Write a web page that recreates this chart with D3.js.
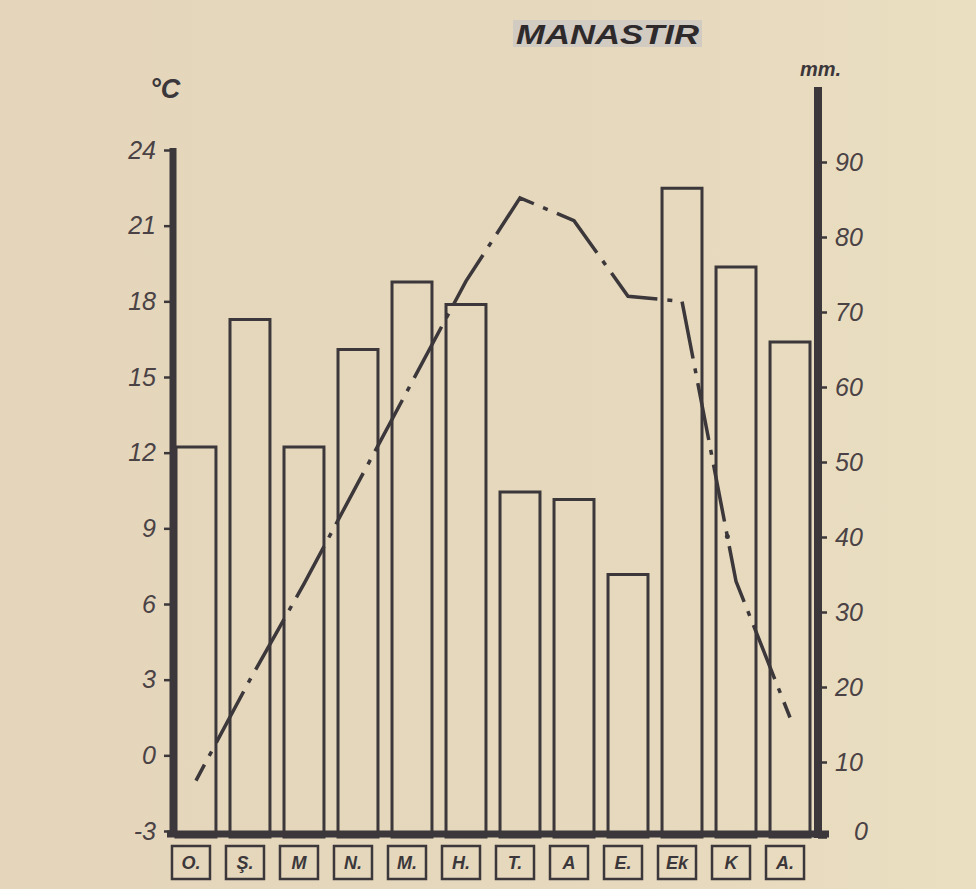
<!DOCTYPE html>
<html>
<head>
<meta charset="utf-8">
<script src="https://cdn.jsdelivr.net/npm/d3@7"></script>
<style>
	body { margin: 0; background: #e5d7bc; }
	svg { display: block; }
	.tick-label { font-family: 'Liberation Sans', Arial, sans-serif; font-style: italic; fill: #4a4245; }
</style>
</head>
<body>
<svg id="climate-plot" width="976" height="889" viewBox="0 0 976 889"></svg>
<script>

// months (Turkish initials), precipitation in mm, mean temperature in °C
const month_labels = ['O.', 'Ş.', 'M', 'N.', 'M.', 'H.', 'T.', 'A', 'E.', 'Ek', 'K', 'A.'];
const precipitation_mm = [52, 69, 52, 65, 74, 71, 46, 45, 35, 86.5, 76, 66];
const temperature_c = [-1, 3, 6.8, 10.8, 14.8, 18.8, 22.1, 21.2, 18.2, 18.0, 6.9, 1.5];
const temp_ticks = [-3, 0, 3, 6, 9, 12, 15, 18, 21, 24];
const mm_ticks = [0, 10, 20, 30, 40, 50, 60, 70, 80, 90];
const title_text = 'MANASTIR';

class ClimatePlot {

	constructor(svg_element_id) {
		this.svg = d3.select('#' + svg_element_id);
		const ink = '#3b373a';

		// background with a slightly lighter right side, like the paper
		const defs = this.svg.append('defs');
		const bg_grad = defs.append('linearGradient')
			.attr('id', 'paper')
			.attr('x1', '0%').attr('x2', '100%');
		bg_grad.append('stop').attr('offset', '0%').attr('stop-color', '#e4d5bb');
		bg_grad.append('stop').attr('offset', '70%').attr('stop-color', '#e6d9bd');
		bg_grad.append('stop').attr('offset', '100%').attr('stop-color', '#ebdfc2');
		this.svg.append('rect')
			.attr('width', 976).attr('height', 889)
			.style('fill', 'url(#paper)');

		// scales
		const x = d3.scaleBand()
			.domain(d3.range(month_labels.length))
			.range([172, 814])
			.paddingInner(0.26)
			.paddingOuter(0.074);
		const bw = x.bandwidth();

		const y_temp = d3.scaleLinear()
			.domain([-3, 24])
			.range([831, 150]);

		const y_mm = d3.scaleLinear()
			.domain([0, 100])
			.range([837, 87]);

		// precipitation bars (open rectangles)
		this.svg.append('g').selectAll('.bar')
			.data(precipitation_mm)
			.enter()
			.append('rect')
				.classed('bar', true)
				.attr('x', (d, i) => x(i))
				.attr('y', d => y_mm(d))
				.attr('width', bw)
				.attr('height', d => y_mm(0) - y_mm(d))
				.style('fill', 'none')
				.style('stroke', ink)
				.style('stroke-width', 3);

		// temperature line, dash-dot
		const line_gen = d3.line()
			.x((d, i) => x(i) + bw / 2)
			.y(d => y_temp(d));

		this.svg.append('path')
			.datum(temperature_c)
			.attr('d', line_gen)
			.style('fill', 'none')
			.style('stroke', ink)
			.style('stroke-width', 3.5)
			.style('stroke-dasharray', '58 10 5 10')
			.style('stroke-dashoffset', 40);

		// the october -> november stretch is drawn solid and heavier
		const p_oct = [x(9) + bw / 2, y_temp(temperature_c[9])];
		const p_nov = [x(10) + bw / 2, y_temp(temperature_c[10])];
		const interp = d3.interpolate(p_oct, p_nov);
		this.svg.append('path')
			.attr('d', d3.line()([interp(0.08), interp(0.84)]))
			.style('fill', 'none')
			.style('stroke', ink)
			.style('stroke-width', 5)
			.style('stroke-linecap', 'round');

		// left axis (°C)
		const left_axis = d3.axisLeft(y_temp)
			.tickValues(temp_ticks)
			.tickSize(9)
			.tickPadding(6)
			.tickFormat(d => String(d));
		const left_g = this.svg.append('g')
			.attr('transform', 'translate(173,0)')
			.call(left_axis);
		left_g.select('.domain').remove();
		left_g.selectAll('.tick line').style('stroke', ink).style('stroke-width', 2.5);
		left_g.selectAll('.tick text')
			.attr('class', 'tick-label')
			.style('font-size', '25px')
			.attr('dx', '-2');
		left_g.append('line')
			.attr('y1', y_temp(24) - 2).attr('y2', 837)
			.style('stroke', ink).style('stroke-width', 7);

		// right axis (mm)
		const right_axis = d3.axisRight(y_mm)
			.tickValues(mm_ticks)
			.tickSize(9)
			.tickPadding(8)
			.tickFormat(d => String(d));
		const right_g = this.svg.append('g')
			.attr('transform', 'translate(818,0)')
			.call(right_axis);
		right_g.select('.domain').remove();
		right_g.selectAll('.tick line').style('stroke', ink).style('stroke-width', 2.5);
		right_g.selectAll('.tick text')
			.attr('class', 'tick-label')
			.style('font-size', '25px');
		right_g.selectAll('.tick')
			.filter(d => d === 0)
			.select('text')
				.attr('x', 36)
				.attr('dy', '0.1em');
		right_g.append('line')
			.attr('y1', y_mm(100)).attr('y2', 838)
			.style('stroke', ink).style('stroke-width', 8);

		// baseline
		this.svg.append('line')
			.attr('x1', 167).attr('x2', 829)
			.attr('y1', 834).attr('y2', 834)
			.style('stroke', ink).style('stroke-width', 7);

		// month boxes under the baseline
		const month_g = this.svg.append('g').selectAll('.month')
			.data(month_labels)
			.enter()
			.append('g')
				.classed('month', true)
				.attr('transform', (d, i) => 'translate(' + (x(i) + bw / 2 - 5) + ',0)');
		month_g.append('rect')
			.attr('x', -19).attr('y', 846)
			.attr('width', 38).attr('height', 33)
			.style('fill', 'none')
			.style('stroke', ink)
			.style('stroke-width', 2.5);
		month_g.append('text')
			.attr('y', 869)
			.attr('text-anchor', 'middle')
			.style('font-family', "'Liberation Sans', Arial, sans-serif")
			.style('font-weight', 'bold')
			.style('font-style', 'italic')
			.style('font-size', '18px')
			.style('fill', ink)
			.text(d => d);

		// unit labels
		this.svg.append('text')
			.attr('x', 150).attr('y', 98)
			.attr('class', 'tick-label')
			.style('font-weight', 'bold')
			.style('font-size', '27px')
			.style('fill', ink)
			.text('°C');
		this.svg.append('text')
			.attr('x', 800).attr('y', 76)
			.attr('class', 'tick-label')
			.style('font-weight', 'bold')
			.style('font-size', '20px')
			.style('fill', ink)
			.text('mm.');

		// title on its grey pasted label
		this.svg.append('rect')
			.attr('x', 513).attr('y', 20)
			.attr('width', 189).attr('height', 27)
			.style('fill', '#d2cbc2');
		this.svg.append('text')
			.attr('x', 516).attr('y', 44)
			.attr('textLength', 183)
			.attr('lengthAdjust', 'spacingAndGlyphs')
			.style('font-family', "'Liberation Sans', Arial, sans-serif")
			.style('font-weight', 'bold')
			.style('font-style', 'italic')
			.style('font-size', '27px')
			.style('fill', '#2e2a2c')
			.text(title_text);
	}
}

function whenDocumentLoaded(action) {
	if (document.readyState === 'loading') {
		document.addEventListener('DOMContentLoaded', action);
	} else {
		action();
	}
}

whenDocumentLoaded(() => {
	plot_object = new ClimatePlot('climate-plot');
});
</script>
</body>
</html>
